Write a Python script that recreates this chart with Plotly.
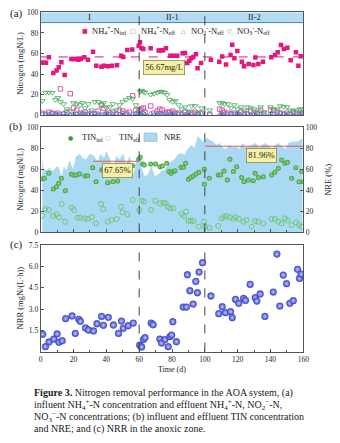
import plotly.graph_objects as go

# ---------------- DATA ----------------
period_bounds = [60, 100]
period_labels = ["I", "II-1", "II-2"]
period_centers = [30, 80, 130]

# Panel (a)
days_nh4_inf = [0.4,1.8,3.2,5,7.7,9.7,11,12.6,14.6,18.7,20.1,21.5,23,24.4,26.6,28.8,31.9,33.9,37,38.4,41,43.4,46.5,49.1,50.3,52.8,55.8,59.7,60.5,61.3,62.5,67,71.9,73.1,74.6,76.3,79,80.8,83.2,86.5,87.9,89.3,90.6,91.8,93,94.6,95.6,97.7,103.7,108.8,110.6,112.9,115.7,116.7,118,119.8,122.6,123.9,126.7,129.6,130.8,132.6,135.4,140.5,142.8,144.4,146.4,148.2,150.3,152.3,155.5,157,158.4]
nh4_inf = [51,51,51,56.3,41,43.4,46.6,51.5,39.2,54.7,54.7,54.7,54,54.7,56.3,54,61.8,48.2,47.2,48.2,47.6,48.2,48.5,57.9,56.6,63.4,63.8,67.6,70.9,65.4,64.4,65,62.8,62.8,63.1,65,57.9,57.9,57.9,60.2,60.5,50.8,53,55.3,56.6,59.2,45.6,50.8,54,52,57,49.2,58.6,68.6,55.3,62.5,52,47.6,49.8,48.9,56,49.8,52,56.3,58.6,61.2,68.3,64.4,65.7,53.4,61.2,48.2,57.3]
nh4_inf_mean = 56.67

days_eff = [1,3,5,7,9,10.5,12,14,16,18,20,22,24,25.5,27,29,31,33,35,37,38.5,40,42,44,46,48,50,52,54,56,58,59.5,60.5,61.5,62.5,63.5,67,69,71,72.5,74,75.5,77,78.5,80.5,82,84,86,88,90,92,94,96,98,103,109,110.5,112,114,116,118,120,122,124,126,128,130,132,134,136,140,142,144,146,148,150,152,154,156,158,159.5]
nh4_eff = [2,1,3,2,1,2,25.6,1,3,21,7,5,2,1,3,1,2,1,4,10,7,1,2,3,1,5,4,2,3,19,5,2,
           5,6,7,3,9,2,4,6,5,2,3,3,4,2,2,1,3,1,2,3,1,2,
           1,6,5,3,2,1,2,1,3,2,1,4,2,1,5,2,5,5,3,2,1,2,1,3,2,1,2]
no2_eff = [1,0.5,1,2,1,0.5,1,2,1,0.5,1,1.5,0.5,2,1,0.5,1,2,1.5,0.5,1,2,0.5,1,1.5,0.5,2,1,0.5,1,2,1,
           1,0.5,2,1,1.5,0.5,1,2,1,0.5,1.5,1,2,0.5,1,1.5,0.5,2,1,0.5,1,1.5,
           1,0.5,2,1,0.5,1.5,1,2,0.5,1,1.5,0.5,1,2,1,0.5,1.5,1,0.5,2,1,0.5,1,1.5,0.5,1,2]
no3_eff = [14,22,22,22,15,17,13,11,6,4,12,11,10,12,7,11,5,13,13,10,12,7,8,11,5,10,13,15,17,16,10,6,
           23,24,23,22,20,21,22,23,23,22,20,15,13,14,10,6,8,4,9,9,3,7,
           5,12,12,11,11,7,10,6,8,5,8,7,6,4,8,3,8,5,6,9,8,8,5,4,5,6,6]

# Panel (b)
days_tin_inf = [0.4,2.2,4.9,7.7,9.7,11,12.6,15,18.7,20.3,21.7,23.6,27,28.6,31.7,33.7,37.2,38.2,40.8,43.9,46.9,51,53,56,59.7,60.7,62.1,63.1,67,70,72.7,74.1,76.8,78.2,79.4,80.8,81.8,85.5,86.9,88.3,90,91.4,93,94.6,96.4,99.7,99.7,102.7,108.2,109.6,111.7,113.7,115.3,117.4,119.4,122.4,123.9,126.5,129.5,130.6,132.6,135.6,140.7,142.7,144.8,146.8,148.8,150.3,152.9,155.5,157.4,159,160]
tin_inf = [50.8,51.4,56.2,41.2,43.5,46.6,51.4,39.6,55.2,54.3,54.6,55.5,53.6,53.9,61.5,48.2,59.3,60,47.3,48.2,48.9,63.1,64.1,63.5,69.5,71.4,65.1,64.1,65.1,65.1,62.5,63.1,65.7,57.8,56.2,57.8,58.7,61.9,61.9,65.7,50.5,52.1,53.6,55.5,57.1,60,45.7,51.4,54.6,54.6,58.4,49.8,69.5,57.8,62.5,52.1,48.2,49.8,49.2,56.2,52.1,53,54.6,57.1,60.9,68.8,65.7,66.6,51.4,61.5,48.2,57.8,48.2]
days_tin_eff = [0.8,2.8,4.9,7.7,9.7,11.2,12.8,14.8,18.9,20.3,22.5,24,27,28.6,31.1,33.7,36.8,38.2,40.8,43.2,46.3,48.9,49.9,52.8,56,60.1,61.5,62.9,67.2,69.8,72.7,74.7,76.1,77.4,78.8,80.8,85.9,87.3,88.5,90,91.4,93,96.4,99.5,100.1,102.7,108.2,110.3,111.7,113.3,115.3,117.4,118.8,120.8,123.5,125.5,128.5,130.6,132.6,135.6,140.7,142.7,144.8,146.8,148.8,150.3,152.9,155.5,157.4,159]
tin_eff = [15.8,22.2,21.3,15.5,17.1,14.3,27,10.1,23.5,21.3,13.9,13.9,13.3,12.7,14.3,8.5,27,21.9,10.1,11.7,12.7,24.4,19,17.1,30.8,21.3,30.1,29.2,21.3,30.1,27.6,28.2,27.6,24.4,22.9,22.9,17.5,15.5,19.7,10.8,11.1,10.8,5.4,10.1,5.4,4.4,6,13.3,14.9,15.5,14.3,12.7,14.3,12.7,10.1,11.7,5.4,10.8,10.1,8.5,12.7,12.7,10.1,8.5,13.3,11.7,7,9.5,7,5.4]
days_nre = [1.0,1.4,3.4,5.5,7.5,9.5,10.9,12.6,14.2,15.6,17.6,19.7,21.7,23.7,25.8,27.8,29.8,31.9,34.9,36.5,38.6,40,42,44,46.1,48.1,50.1,52.2,54.2,56.2,58.3,59.9,61.3,63.3,65.4,67.4,69.4,71.5,73.5,75.5,77.6,79.6,81.6,83.7,85.7,87.7,89.7,91.8,93.8,95.8,97.8,99.5,100.9,102.9,105,107,109,111,113,115,117,119,121,123,125,127,129,131,133,135,137,139,141,143,145,147,149,151,153,155,157,159.5]
nre = [68,60,59,61,58,62,62,50,62,58,67.7,59,72,74,70,69,74,73.5,66.5,74,70,76.5,70,58,72,69,74,62.5,72,51,67.5,70,
       61,53,54.6,62.5,53,54.6,58,59,64,67.5,69,74,75,73.5,79,83,80,91,88,85,
       89.5,88,86,83,84.6,80,79,83,80.6,81.6,79,84.6,80.6,81.6,83,84.6,80,83,84.6,81.6,79,83,84.6,81.6,79,84.6,86,86,86.5,89]
nre_mean = [67.65, 81.96]
nre_mean_start = [32, 100]
nre_mean_end = [60, 160]
nre_mean_text = ["67.65%", "81.96%"]

# Panel (c)
days_nrr = [1.2,2.9,5.1,8,10,11.1,13.1,15.2,19.1,21.1,23.2,24.2,27.3,29.1,32.2,34.3,37.1,38.2,41.2,44.3,47.4,49.2,50.3,53.3,56.4,60.3,61.5,62.6,63.6,67.3,68.5,72.6,73.6,75.7,77.7,78.8,79.8,80.5,82.7,86.8,88.8,89.4,90.9,92.9,94.5,95.5,96.5,98.6,103.7,108.5,110.6,112.6,115.7,116.7,118.7,120.7,123.6,124.8,127.6,130.7,131.7,133.7,136.6,141.7,143.9,145.7,147.8,149.8,151.8,153.9,156.5,157.7,158.7]
nrr = [1.21,0.34,0.67,0.88,1.24,0.65,0.76,2.32,2.51,1.28,2.27,2.13,1.66,1.52,1.45,1.96,2.48,1.85,2.41,1.87,1.28,2.15,1.64,1.82,2.01,0.44,0.32,0.84,0.98,2.01,1.89,0.88,0.6,0.84,0.34,1.05,1.16,2.1,0.69,3.14,3.14,5.42,4.29,3.35,4.95,4.15,5.61,6.27,3.92,2.67,3.16,2.74,2.81,2.39,3.68,3.4,3.75,3.61,4.74,3.8,3.56,4.06,2.48,4.2,6.88,3.21,5.4,4.79,3.4,3.59,5.8,5.16,5.47]

x_ticks = [0, 20, 40, 60, 80, 100, 120, 140, 160]
n_ticks = [0, 20, 40, 60, 80, 100]
nrr_ticks = [1.5, 3.0, 4.5, 6.0, 7.5]

# ---------------- LAYOUT HELPERS ----------------
W, H = 340, 443
def py(p):
    return 1 - p / H
def px(p):
    return p / W

XL, XR = 40.7, 303.3
A_T, A_B = 12.3, 115.3
B_T, B_B = 127.3, 232.3
C_T, C_B = 245.3, 351.5

SERIF = "Liberation Serif"
SYM = "DejaVu Sans"
AX = "#555555"
FRAME = dict(showline=True, linecolor=AX, linewidth=1, mirror=True, automargin=False,
             ticks="inside", ticklen=3, tickcolor=AX, showgrid=False, zeroline=False,
             tickfont=dict(family=SERIF, size=7.5, color="#222"))

fig = go.Figure()

# ---- Panel (a)
fig.add_trace(go.Scatter(x=days_nh4_inf, y=nh4_inf, mode="markers", xaxis="x", yaxis="y",
                         marker=dict(symbol="square", size=4.5, color="#e3177d")))
fig.add_trace(go.Scatter(x=days_eff, y=nh4_eff, mode="markers", xaxis="x", yaxis="y",
                         marker=dict(symbol="square-open", size=4.5, color="#d54b9c", line=dict(width=0.9))))
fig.add_trace(go.Scatter(x=days_eff, y=no2_eff, mode="markers", xaxis="x", yaxis="y",
                         marker=dict(symbol="triangle-up-open", size=5, color="#4f82d8", line=dict(width=0.9))))
fig.add_trace(go.Scatter(x=days_eff, y=no3_eff, mode="markers", xaxis="x", yaxis="y",
                         marker=dict(symbol="triangle-down-open", size=5, color="#4db063", line=dict(width=0.9))))
fig.add_trace(go.Scatter(x=[0, 160], y=[nh4_inf_mean, nh4_inf_mean], mode="lines", xaxis="x", yaxis="y",
                         line=dict(color="#e3177d", width=1, dash="dash")))

# ---- Panel (b): NRE area (base right axis y2), TIN on overlaying y3
fig.add_trace(go.Scatter(x=days_nre, y=nre, mode="lines", fill="tozeroy", xaxis="x2", yaxis="y2",
                         line=dict(color="#a9d9f3", width=0.8), fillcolor="#a9d9f3"))
for i in range(len(nre_mean)):
    fig.add_trace(go.Scatter(x=[nre_mean_start[i], nre_mean_end[i]], y=[nre_mean[i], nre_mean[i]],
                             mode="lines", xaxis="x2", yaxis="y2",
                             line=dict(color="#e05a5a", width=1)))
fig.add_trace(go.Scatter(x=days_tin_inf, y=tin_inf, mode="markers", xaxis="x2", yaxis="y3",
                         marker=dict(symbol="circle", size=5, color="#3f9a3a",
                                     gradient=dict(type="radial", color="#9be08e"),
                                     line=dict(width=0))))
fig.add_trace(go.Scatter(x=days_tin_eff, y=tin_eff, mode="markers", xaxis="x2", yaxis="y3",
                         marker=dict(symbol="circle-open", size=5, color="#6cc46a", line=dict(width=0.9))))

# ---- Panel (c)
fig.add_trace(go.Scatter(x=days_nrr, y=nrr, mode="markers", xaxis="x3", yaxis="y4",
                         marker=dict(symbol="circle", size=6.8, color="#3a45c4",
                                     gradient=dict(type="radial", color="#c5caff"),
                                     line=dict(width=0.4, color="#3a45c4"))))

shapes = []
shapes.append(dict(type="rect", xref="x domain", yref="y", x0=0, x1=1, y0=90, y1=100,
                   fillcolor="#b3dcf4", line=dict(width=0), layer="below"))
shapes.append(dict(type="line", xref="x domain", yref="y", x0=0, x1=1, y0=90, y1=90,
                   line=dict(color="#4a7fae", width=1)))
for xa, ya in [("x", "y"), ("x2", "y2"), ("x3", "y4")]:
    for b in period_bounds:
        shapes.append(dict(type="line", xref=xa, yref=ya + " domain", x0=b, x1=b, y0=0, y1=1,
                           line=dict(color="#444", width=1, dash="dash")))
shapes.append(dict(type="rect", xref="paper", yref="paper", x0=px(144), x1=px(157), y0=py(141.5), y1=py(133),
                   fillcolor="#a9d9f3", line=dict(width=0.5, color="#8ab")))

ann = []
def A(x, y, text, size=8.5, color="#222", family=SERIF, xanchor="left", yanchor="middle", **kw):
    ann.append(dict(x=px(x), y=py(y), xref="paper", yref="paper", text=text, showarrow=False,
                    xanchor=xanchor, yanchor=yanchor, font=dict(family=family, size=size, color=color), **kw))

for lab, c in zip(period_labels, period_centers):
    ann.append(dict(x=c, y=95, xref="x", yref="y", text=lab, showarrow=False,
                    font=dict(family=SERIF, size=8.5, color="#222")))

A(85, 31, "■", size=6, color="#e3177d", family=SYM, xanchor="center")
A(90, 31, "NH<sub>4</sub><sup>+</sup>-N<sub>inf</sub>")
A(133, 31, "□", size=6, color="#d54b9c", family=SYM, xanchor="center")
A(139, 31, "NH<sub>4</sub><sup>+</sup>-N<sub>eff</sub>")
A(183, 31, "△", size=6, color="#4f82d8", family=SYM, xanchor="center")
A(189, 31, "NO<sub>2</sub><sup>-</sup>-N<sub>eff</sub>")
A(229, 31, "▽", size=6, color="#4db063", family=SYM, xanchor="center")
A(235, 31, "NO<sub>3</sub><sup>-</sup>-N<sub>eff</sub>")

A(70, 137, "●", size=6, color="#3f9a3a", family=SYM, xanchor="center")
A(80, 137, "TIN<sub>inf</sub>")
A(107, 137, "○", size=6, color="#6cc46a", family=SYM, xanchor="center")
A(117, 137, "TIN<sub>eff</sub>")
A(162, 137, "NRE")

ann.append(dict(x=75.1, y=46, xref="x", yref="y", text="56.67mg/L", showarrow=False,
                bgcolor="#f6f1a6", bordercolor="#8a8a50", borderwidth=0.8, borderpad=1.5,
                font=dict(family=SERIF, size=8.5, color="#222")))
box_pos = [(46.5, 58.9), (134.5, 72.7)]
for t, (bx, by) in zip(nre_mean_text, box_pos):
    ann.append(dict(x=bx, y=by, xref="x2", yref="y2", text=t, showarrow=False,
                    bgcolor="#f6f1a6", bordercolor="#8a8a50", borderwidth=0.8, borderpad=1.5,
                    font=dict(family=SERIF, size=8.5, color="#222")))

A(8, 13, "(a)", size=11)
A(7, 127, "(b)", size=11)
A(8, 244, "(c)", size=11)

def vtitle(x, y, text):
    ann.append(dict(x=px(x), y=py(y), xref="paper", yref="paper", text=text, textangle=-90,
                    showarrow=False, xanchor="center", yanchor="middle",
                    font=dict(family=SERIF, size=8.5, color="#222")))
vtitle(20, (A_T + A_B) / 2, "Nitrogen (mgN/L)")
vtitle(20, (B_T + B_B) / 2, "Nitrogen (mgN/L)")
vtitle(328, (B_T + B_B) / 2, "NRE (%)")
vtitle(20, (C_T + C_B) / 2, "NRR (mgN/(L·h))")
A((XL + XR) / 2, 369.5, "Time (d)", size=8, xanchor="center")

cap = [
    "<b>Figure 3.</b> Nitrogen removal performance in the AOA system, (a)",
    "influent NH<sub>4</sub><sup>+</sup>-N concentration and effluent NH<sub>4</sub><sup>+</sup>-N, NO<sub>2</sub><sup>−</sup>-N,",
    "NO<sub>3</sub><sup>−</sup>-N concentrations; (b) influent and effluent TIN concentration",
    "and NRE; and (c) NRR in the anoxic zone.",
]
cap_y = [392.5, 404.5, 417.0, 428.5]
for line, yy in zip(cap, cap_y):
    A(32, yy, line, size=10, color="#1a1a1a")

xcommon = dict(range=[0, 160], tickvals=x_ticks, **FRAME)
fig.update_layout(
    template="none",
    width=W, height=H, margin=dict(l=0, r=0, t=0, b=0, pad=0, autoexpand=False),
    paper_bgcolor="white", plot_bgcolor="white", showlegend=False,
    xaxis=dict(domain=[px(XL), px(XR)], anchor="y", showticklabels=False,
               minor=dict(ticks="inside", ticklen=2, dtick=10, tickcolor=AX), **xcommon),
    yaxis=dict(domain=[py(A_B), py(A_T)], anchor="x", range=[0, 100], tickvals=n_ticks, **FRAME),
    xaxis2=dict(domain=[px(XL), px(XR)], anchor="y2", showticklabels=False,
                minor=dict(ticks="inside", ticklen=2, dtick=10, tickcolor=AX), **xcommon),
    yaxis2=dict(domain=[py(B_B), py(B_T)], anchor="x2", side="right", range=[0, 100], tickvals=n_ticks, **FRAME),
    yaxis3=dict(overlaying="y2", anchor="x2", side="left", range=[0, 100], tickvals=n_ticks, **FRAME),
    xaxis3=dict(domain=[px(XL), px(XR)], anchor="y4",
                minor=dict(ticks="inside", ticklen=2, dtick=10, tickcolor=AX), **xcommon),
    yaxis4=dict(domain=[py(C_B), py(C_T)], anchor="x3", range=[0, 7.5], tickvals=nrr_ticks,
                ticktext=["%.1f" % v for v in nrr_ticks], **FRAME),
    shapes=shapes, annotations=ann,
)

fig.write_html("out.html")
